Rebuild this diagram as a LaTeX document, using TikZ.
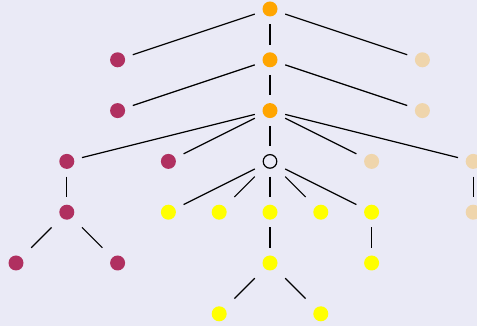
\documentclass[tikz,border=0pt]{standalone}
\usetikzlibrary{positioning}

\definecolor{bgcol}{RGB}{234,234,246}
\definecolor{stemcol}{HTML}{FFA500}
\definecolor{leftcol}{RGB}{176,48,96}
\definecolor{rightcol}{RGB}{239,213,172}
\definecolor{leafcol}{HTML}{FFFF00}

\tikzset{
  dot/.style={rectangle,minimum size=30pt,inner sep=0pt,
    path picture={\fill[#1] (path picture bounding box.center) circle (7.5pt);}},
  hole/.style={rectangle,minimum size=30pt,inner sep=0pt,
    path picture={\draw[line width=1.2pt] (path picture bounding box.center) circle (6.8pt);}},
  link/.style={line width=1.2pt}
}

\begin{document}
\begin{tikzpicture}[x=1pt,y=1pt,node distance=50.8pt and 50.8pt,on grid]
   \path[use as bounding box,fill=bgcol] (0,0) rectangle (477,326);
   % spine
   \node[dot=stemcol] (s_0) at (270,317) {};
   \node[dot=stemcol] (s_1) [below=of s_0] {};
   \node[dot=stemcol] (s_2) [below=of s_1] {};
   \node[hole]        (h_3) [below=of s_2] {};
   % left side
   \node[dot=leftcol] (l_1) [below left=50.8pt and 152.4pt of s_0] {};
   \node[dot=leftcol] (l_2) [below=of l_1] {};
   \node[dot=leftcol] (l_3) [below left=50.8pt and 203.2pt of s_2] {};
   \node[dot=leftcol] (m_3) [below left=50.8pt and 101.6pt of s_2] {};
   \node[dot=leftcol] (l_4) [below=of l_3] {};
   \node[dot=leftcol] (l_5) [below left=of l_4] {};
   \node[dot=leftcol] (k_5) [below right=of l_4] {};
   % right side
   \node[dot=rightcol] (r_1) [below right=50.8pt and 152.4pt of s_0] {};
   \node[dot=rightcol] (r_2) [below=of r_1] {};
   \node[dot=rightcol] (q_3) [below right=50.8pt and 101.6pt of s_2] {};
   \node[dot=rightcol] (r_3) [below right=50.8pt and 203.2pt of s_2] {};
   \node[dot=rightcol] (r_4) [below=of r_3] {};
   % leaves
   \node[dot=leafcol] (y_a) [below left=50.8pt and 101.6pt of h_3] {};
   \node[dot=leafcol] (y_b) [below left=of h_3] {};
   \node[dot=leafcol] (y_c) [below=of h_3] {};
   \node[dot=leafcol] (y_d) [below right=of h_3] {};
   \node[dot=leafcol] (y_e) [below right=50.8pt and 101.6pt of h_3] {};
   \node[dot=leafcol] (y_f) [below=of y_c] {};
   \node[dot=leafcol] (y_g) [below=of y_e] {};
   \node[dot=leafcol] (y_h) [below left=of y_f] {};
   \node[dot=leafcol] (y_i) [below right=of y_f] {};
    \path[link]
    (s_0) edge (l_1)
          edge (s_1)
          edge (r_1)
    (s_1) edge (l_2)
          edge (s_2)
          edge (r_2)
    (s_2) edge (l_3)
          edge (m_3)
          edge (h_3)
          edge (q_3)
          edge (r_3)
    (l_3) edge (l_4)
    (l_4) edge (l_5)
          edge (k_5)
    (r_3) edge (r_4)
    (h_3) edge (y_a)
          edge (y_b)
          edge (y_c)
          edge (y_d)
          edge (y_e)
    (y_c) edge (y_f)
    (y_f) edge (y_h)
          edge (y_i)
    (y_e) edge (y_g);
\end{tikzpicture}
\end{document}
